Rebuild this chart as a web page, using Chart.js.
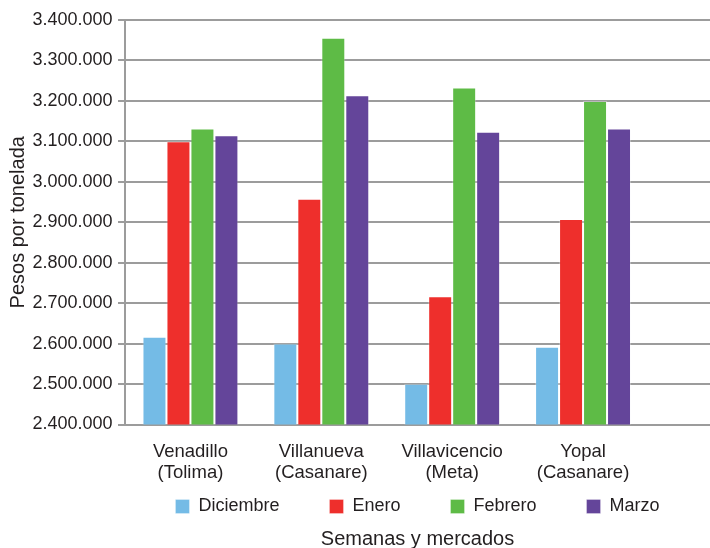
<!DOCTYPE html>
<html lang="es">
  <head>
    <meta charset="UTF-8" />
    <script src="https://cdn.jsdelivr.net/npm/chart.js@4.4.1/dist/chart.umd.min.js"></script>
    <title>Pesos por tonelada</title>
    <style>
      body { margin: 0; background: #fff; }
    </style>
  </head>
  <body>
    <canvas id="myChart" width="710" height="548"></canvas>
    <script>
      const mercados = [
        ["Venadillo", "(Tolima)"],
        ["Villanueva", "(Casanare)"],
        ["Villavicencio", "(Meta)"],
        ["Yopal", "(Casanare)"],
      ];
      const diciembre = [2617000, 2600000, 2501000, 2592000];
      const enero = [3100000, 2958000, 2717000, 2908000];
      const febrero = [3132000, 3356000, 3233000, 3200000];
      const marzo = [3115000, 3214000, 3124000, 3132000];
      const yTicks = [2400000, 2500000, 2600000, 2700000, 2800000, 2900000, 3000000, 3100000, 3200000, 3300000, 3400000];

      const font = "'Liberation Sans', Arial, sans-serif";
      const textColor = "#231f20";
      const gridColor = "#9c9c9c";

      function points(values) {
        return values.map((v, i) => ({ x: i, y: v }));
      }
      function miles(v) {
        return v.toString().replace(/\B(?=(\d{3})+(?!\d))/g, ".");
      }

      // the x scale is squeezed so the legend sits close to it; give its labels room to draw again
      const unclipX = {
        id: "unclipX",
        afterLayout(chart) {
          chart.scales.x.bottom = chart.height;
        },
      };

      const ctx = document.getElementById("myChart").getContext("2d");
      const myChart = new Chart(ctx, {
        type: "bar",
        data: {
          datasets: [
            { label: "Diciembre", data: points(diciembre), backgroundColor: "#74bbe6" },
            { label: "Enero", data: points(enero), backgroundColor: "#ee2f2c" },
            { label: "Febrero", data: points(febrero), backgroundColor: "#5ebb46" },
            { label: "Marzo", data: points(marzo), backgroundColor: "#64459a" },
          ],
        },
        plugins: [unclipX],
        options: {
          responsive: false,
          animation: false,
          categoryPercentage: 0.733,
          barPercentage: 1,
          borderWidth: 1,
          borderColor: "rgba(255,255,255,0.3)",
          layout: { padding: { top: 20, left: 0, right: 0, bottom: 0 } },
          scales: {
            x: {
              type: "linear",
              offset: false,
              min: -0.5,
              max: 3.97,
              grid: { display: false },
              border: { display: true, color: gridColor, width: 2 },
              afterFit: (scale) => {
                scale.height = 23;
              },
              ticks: {
                stepSize: 1,
                includeBounds: false,
                autoSkip: false,
                maxRotation: 0,
                padding: 8.5,
                color: textColor,
                font: { family: font, size: 18.5, lineHeight: 1.15 },
                callback: (v) => mercados[v] || "",
              },
            },
            y: {
              min: 2400000,
              max: 3400000,
              afterBuildTicks: (scale) => {
                scale.ticks = yTicks.map((v) => ({ value: v }));
              },
              afterFit: (scale) => {
                scale.width = 125;
              },
              grid: { color: gridColor, lineWidth: 2, tickLength: 7 },
              border: { color: gridColor, width: 2 },
              ticks: {
                padding: 5.5,
                color: textColor,
                font: { family: font, size: 18 },
                callback: (v) => miles(v),
              },
              title: {
                display: true,
                text: "Pesos por tonelada",
                color: textColor,
                font: { family: font, size: 20, lineHeight: 1.2 },
                padding: { top: 6, bottom: 0 },
              },
            },
          },
          plugins: {
            tooltip: { enabled: false },
            legend: {
              position: "bottom",
              fullSize: false,
              labels: {
                boxWidth: 14,
                boxHeight: 14,
                padding: 50,
                color: textColor,
                font: { family: font, size: 18 },
              },
            },
            title: {
              display: true,
              position: "bottom",
              fullSize: false,
              text: "Semanas y mercados",
              color: textColor,
              padding: { top: 5.5, bottom: 0 },
              font: { family: font, size: 20, weight: "normal", lineHeight: 0.85 },
            },
          },
        },
      });
    </script>
  </body>
</html>
